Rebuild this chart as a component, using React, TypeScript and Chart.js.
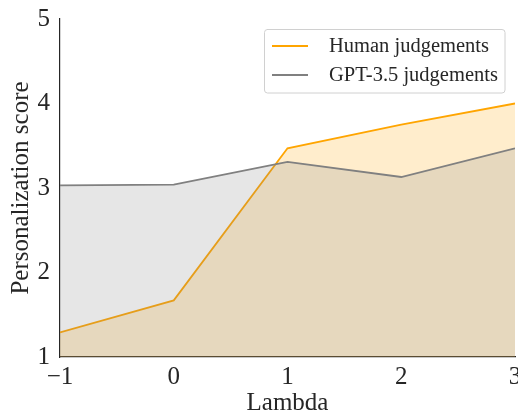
import React, { useEffect, useRef } from "react";
import { Chart, registerables } from "chart.js";

Chart.register(...registerables);

const lambdas = [-1, 0, 1, 2, 3];
const humanScores = [1.29, 1.67, 3.47, 3.75, 4.0];
const gptScores = [3.03, 3.04, 3.31, 3.13, 3.47];
const seriesNames = ["Human judgements", "GPT-3.5 judgements"];
const seriesColors = ["#FFA500", "#808080"];
const seriesFills = ["rgba(255,165,0,0.2)", "rgba(128,128,128,0.2)"];

const FONT = "'Liberation Serif', 'Times New Roman', serif";

const legendPlugin = {
  id: "boxLegend",
  afterDraw(chart: any) {
    const ctx = chart.ctx;
    const area = chart.chartArea;
    const w = 241;
    const h = 64;
    const x = area.right - 10 - w;
    const y = area.top + 10;
    ctx.save();
    ctx.fillStyle = "rgba(255,255,255,0.8)";
    ctx.strokeStyle = "#d0d0d0";
    ctx.lineWidth = 1;
    ctx.beginPath();
    const r = 3;
    ctx.moveTo(x + r, y + 0.5);
    ctx.arcTo(x + w, y + 0.5, x + w, y + h, r);
    ctx.arcTo(x + w, y + h, x, y + h, r);
    ctx.arcTo(x + 0.5, y + h, x + 0.5, y, r);
    ctx.arcTo(x + 0.5, y + 0.5, x + w, y + 0.5, r);
    ctx.closePath();
    ctx.fill();
    ctx.stroke();
    ctx.font = `20.5px ${FONT}`;
    ctx.textBaseline = "middle";
    ctx.fillStyle = "#262626";
    seriesNames.forEach((name, i) => {
      const cy = y + 17 + i * 29;
      ctx.strokeStyle = seriesColors[i];
      ctx.lineWidth = 1.8;
      ctx.beginPath();
      ctx.moveTo(x + 8, cy);
      ctx.lineTo(x + 44, cy);
      ctx.stroke();
      ctx.fillText(name, x + 65, cy + 1);
    });
    ctx.restore();
  },
};

function fmt(v: number) {
  return v < 0 ? "\u2212" + Math.abs(v) : String(v);
}

export default function App() {
  const ref = useRef<HTMLCanvasElement>(null);
  useEffect(() => {
    const chart = new Chart(ref.current!, {
      type: "line",
      data: {
        datasets: [
          {
            label: seriesNames[0],
            data: lambdas.map((x, i) => ({ x, y: humanScores[i] })),
            borderColor: seriesColors[0],
            backgroundColor: seriesFills[0],
            borderWidth: 1.8,
            pointRadius: 0,
            fill: "start",
            tension: 0,
            order: 2,
          },
          {
            label: seriesNames[1],
            data: lambdas.map((x, i) => ({ x, y: gptScores[i] })),
            borderColor: seriesColors[1],
            backgroundColor: seriesFills[1],
            borderWidth: 1.8,
            pointRadius: 0,
            fill: "start",
            tension: 0,
            order: 1,
          },
        ],
      },
      options: {
        animation: false,
        responsive: false,
        layout: { padding: { top: 19, right: 3, left: 0, bottom: 0 } },
        plugins: { legend: { display: false }, tooltip: { enabled: false } },
        scales: {
          x: {
            type: "linear",
            min: -1,
            max: 3,
            grid: { display: false, drawTicks: false },
            border: { display: true, color: "#262626", width: 1.2 },
            ticks: {
              stepSize: 1,
              color: "#262626",
              font: { family: FONT, size: 25, lineHeight: 1 },
              padding: 8,
              callback: (v: any) => fmt(Number(v)),
            },
            title: {
              display: true,
              text: "Lambda",
              color: "#262626",
              font: { family: FONT, size: 25, lineHeight: 1 },
              padding: { top: 0, bottom: -2 },
            },
            afterFit: (s: any) => {
              s.height = 57;
              s.paddingLeft = 0;
              s.paddingRight = 0;
            },
          },
          y: {
            min: 1,
            max: 5,
            grid: { display: false, drawTicks: false },
            border: { display: true, color: "#262626", width: 1.2 },
            ticks: {
              stepSize: 1,
              color: "#262626",
              font: { family: FONT, size: 25 },
              padding: 10,
            },
            title: {
              display: true,
              text: "Personalization score",
              color: "#262626",
              font: { family: FONT, size: 25, lineHeight: 1 },
              padding: { top: 9, bottom: 0 },
            },
            afterFit: (s: any) => {
              s.width = 60;
              s.paddingTop = 0;
              s.paddingBottom = 0;
            },
          },
        },
      },
      plugins: [legendPlugin],
    } as any);
    return () => chart.destroy();
  }, []);
  return (
    <div style={{ position: "fixed", left: 0, top: 0, width: 518, height: 414, background: "#fff" }}>
      <canvas ref={ref} width={518} height={414} />
    </div>
  );
}
